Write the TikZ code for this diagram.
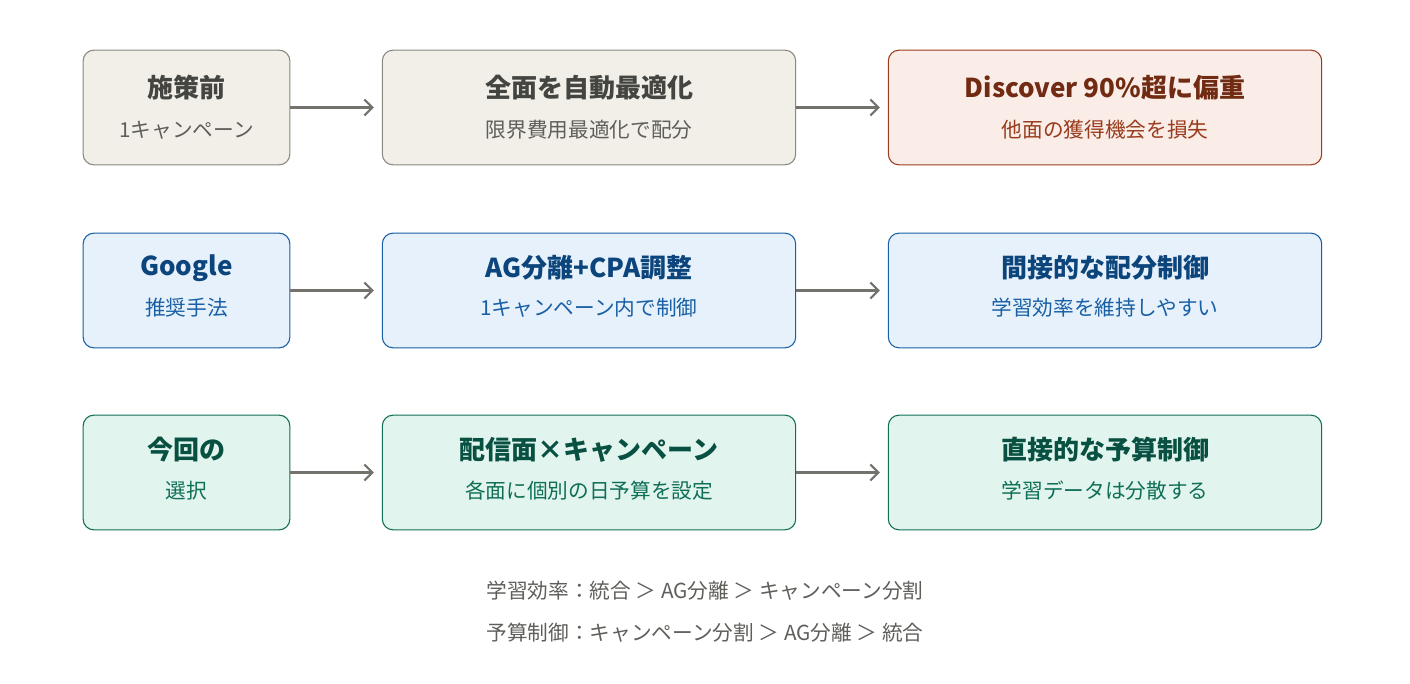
\documentclass[tikz,border=0pt]{standalone}
\usepackage{fontspec}
\setmainfont{Noto Sans CJK JP}
\newfontfamily\jpbold{Noto Sans CJK JP}[FakeBold=0]
\usetikzlibrary{arrows.meta}
\definecolor{grayfill}{HTML}{F1EFE8}\definecolor{grayline}{HTML}{888780}\definecolor{graytext}{HTML}{444441}\definecolor{graysub}{HTML}{5F5E5A}
\definecolor{redfill}{HTML}{FAECE7}\definecolor{redline}{HTML}{993C1D}\definecolor{redtext}{HTML}{712B13}
\definecolor{bluefill}{HTML}{E6F1FB}\definecolor{blueline}{HTML}{185FA5}\definecolor{bluetext}{HTML}{0C447C}
\definecolor{greenfill}{HTML}{E1F5EE}\definecolor{greenline}{HTML}{0F6E56}\definecolor{greentext}{HTML}{085041}
\definecolor{arrowgray}{HTML}{73726C}
\tikzset{
  box/.style={draw, rounded corners=8pt, line width=0.8pt, minimum height=86pt, inner sep=0pt},
  small/.style={box, minimum width=155pt},
  wide/.style={box, minimum width=310pt},
  widest/.style={box, minimum width=325pt},
  gray/.style={fill=grayfill, draw=grayline},
  red/.style={fill=redfill, draw=redline},
  blue/.style={fill=bluefill, draw=blueline},
  green/.style={fill=greenfill, draw=greenline},
  ttl/.style={font=\bfseries\fontsize{19.5}{22}\selectfont},
  sub/.style={font=\fontsize{15.5}{18}\selectfont},
  flow/.style={draw=arrowgray, line width=1.6pt, -{Straight Barb[length=6pt,width=12pt]}}
}
\begin{document}
\begin{tikzpicture}[x=0.75pt,y=-0.75pt]
\useasboundingbox (0,0) rectangle (1410,684);
% row 1
\node[small, gray] (r1a) at (186.5,107.5) {};
\node[wide, gray] (r1b) at (589,107.5) {};
\node[widest, red] (r1c) at (1105,107.5) {};
\node[ttl, text=graytext] at (186.5,88) {施策前};
\node[sub, text=graysub] at (186.5,130) {1キャンペーン};
\node[ttl, text=graytext] at (589,88) {全面を自動最適化};
\node[sub, text=graysub] at (589,130) {限界費用最適化で配分};
\node[ttl, text=redtext] at (1105,88) {Discover 90\%超に偏重};
\node[sub, text=redline] at (1105,130) {他面の獲得機会を損失};
% row 2
\node[small, blue] (r2a) at (186.5,290.5) {};
\node[wide, blue] (r2b) at (589,290.5) {};
\node[widest, blue] (r2c) at (1105,290.5) {};
\node[ttl, text=bluetext] at (186.5,268) {Google};
\node[sub, text=blueline] at (186.5,308) {推奨手法};
\node[ttl, text=bluetext] at (589,268) {AG分離+CPA調整};
\node[sub, text=blueline] at (589,308) {1キャンペーン内で制御};
\node[ttl, text=bluetext] at (1105,268) {間接的な配分制御};
\node[sub, text=blueline] at (1105,308) {学習効率を維持しやすい};
% row 3
\node[small, green] (r3a) at (186.5,472.5) {};
\node[wide, green] (r3b) at (589,472.5) {};
\node[widest, green] (r3c) at (1105,472.5) {};
\node[ttl, text=greentext] at (186.5,450) {今回の};
\node[sub, text=greenline] at (186.5,491) {選択};
\node[ttl, text=greentext] at (589,450) {配信面×キャンペーン};
\node[sub, text=greenline] at (589,491) {各面に個別の日予算を設定};
\node[ttl, text=greentext] at (1105,450) {直接的な予算制御};
\node[sub, text=greenline] at (1105,491) {学習データは分散する};
% arrows
\foreach \r in {1,2,3}{
  \draw[flow] (r\r a.east) -- ([xshift=-6pt]r\r b.west);
  \draw[flow] (r\r b.east) -- ([xshift=-6pt]r\r c.west);
}
% notes
\node[sub, text=graysub] (note1) at (705,591) {学習効率：統合 ＞ AG分離 ＞ キャンペーン分割};
\node[sub, text=graysub] (note2) at (705,633) {予算制御：キャンペーン分割 ＞ AG分離 ＞ 統合};
\end{tikzpicture}
\end{document}
